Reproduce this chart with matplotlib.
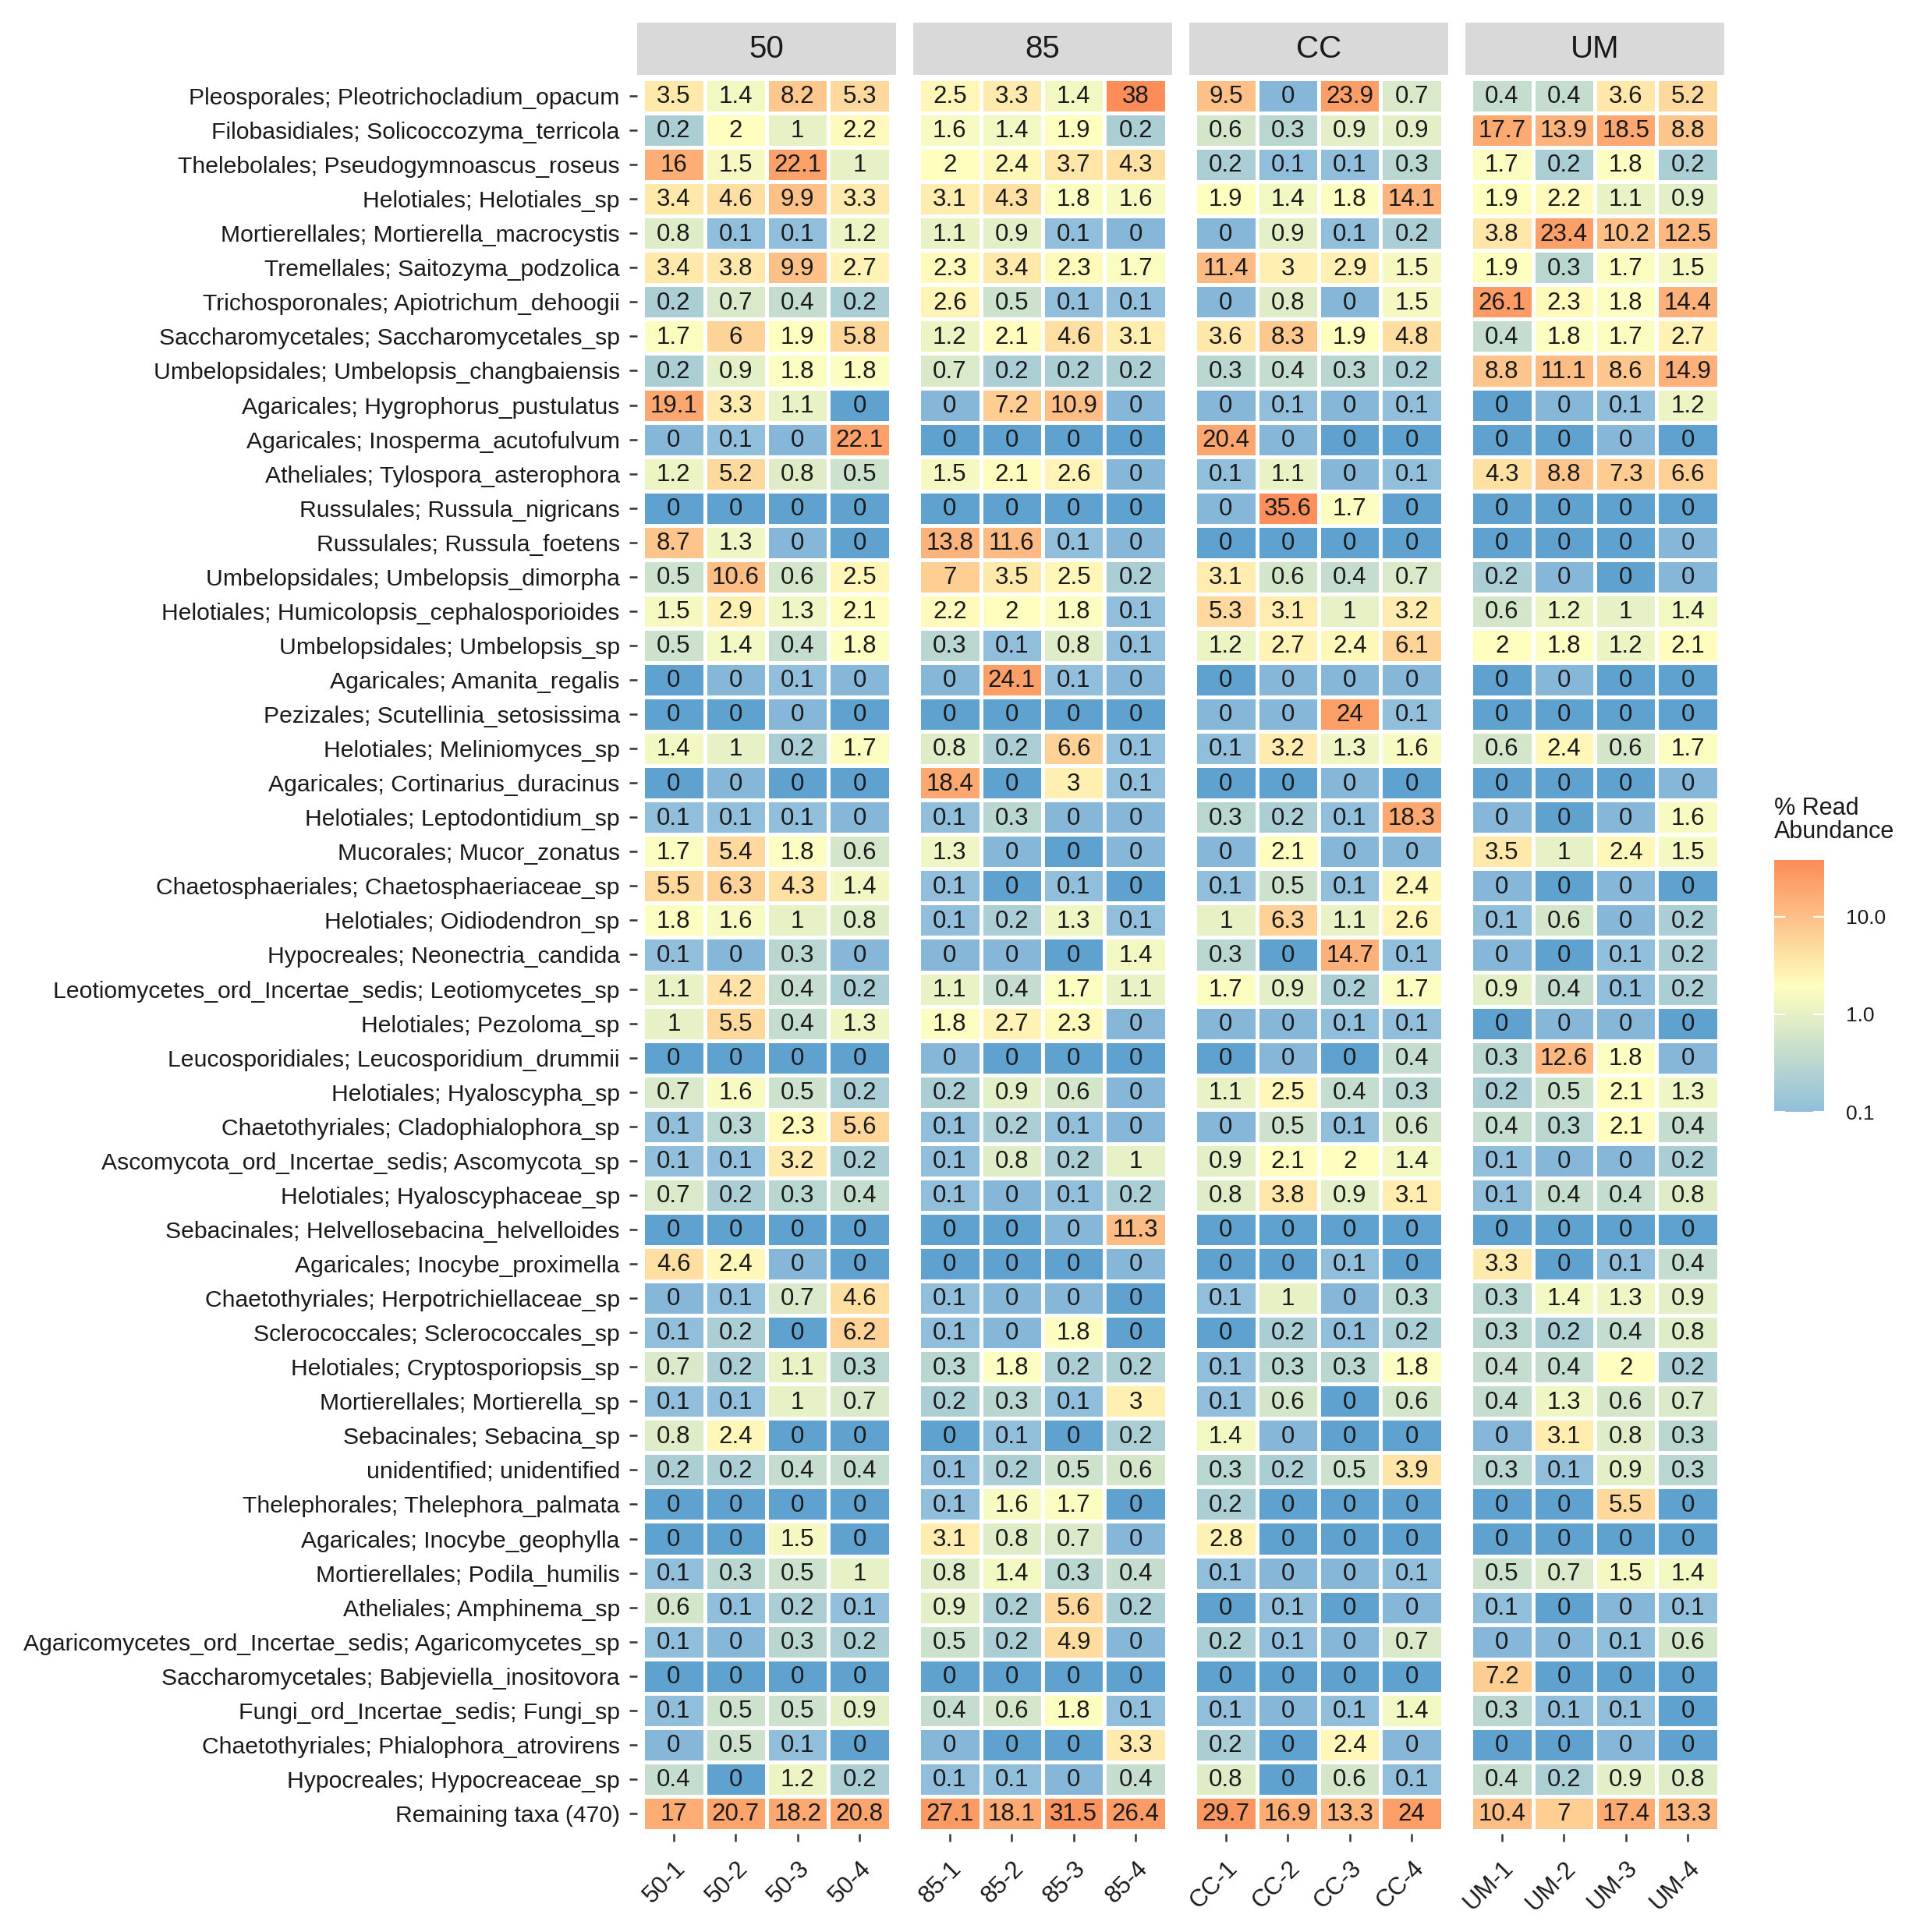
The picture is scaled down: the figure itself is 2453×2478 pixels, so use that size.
import numpy as np
import matplotlib.pyplot as plt
from matplotlib.colors import LinearSegmentedColormap, Normalize

plt.rcParams['font.family'] = ['Liberation Sans', 'DejaVu Sans']

taxa = [
    'Pleosporales; Pleotrichocladium_opacum',
    'Filobasidiales; Solicoccozyma_terricola',
    'Thelebolales; Pseudogymnoascus_roseus',
    'Helotiales; Helotiales_sp',
    'Mortierellales; Mortierella_macrocystis',
    'Tremellales; Saitozyma_podzolica',
    'Trichosporonales; Apiotrichum_dehoogii',
    'Saccharomycetales; Saccharomycetales_sp',
    'Umbelopsidales; Umbelopsis_changbaiensis',
    'Agaricales; Hygrophorus_pustulatus',
    'Agaricales; Inosperma_acutofulvum',
    'Atheliales; Tylospora_asterophora',
    'Russulales; Russula_nigricans',
    'Russulales; Russula_foetens',
    'Umbelopsidales; Umbelopsis_dimorpha',
    'Helotiales; Humicolopsis_cephalosporioides',
    'Umbelopsidales; Umbelopsis_sp',
    'Agaricales; Amanita_regalis',
    'Pezizales; Scutellinia_setosissima',
    'Helotiales; Meliniomyces_sp',
    'Agaricales; Cortinarius_duracinus',
    'Helotiales; Leptodontidium_sp',
    'Mucorales; Mucor_zonatus',
    'Chaetosphaeriales; Chaetosphaeriaceae_sp',
    'Helotiales; Oidiodendron_sp',
    'Hypocreales; Neonectria_candida',
    'Leotiomycetes_ord_Incertae_sedis; Leotiomycetes_sp',
    'Helotiales; Pezoloma_sp',
    'Leucosporidiales; Leucosporidium_drummii',
    'Helotiales; Hyaloscypha_sp',
    'Chaetothyriales; Cladophialophora_sp',
    'Ascomycota_ord_Incertae_sedis; Ascomycota_sp',
    'Helotiales; Hyaloscyphaceae_sp',
    'Sebacinales; Helvellosebacina_helvelloides',
    'Agaricales; Inocybe_proximella',
    'Chaetothyriales; Herpotrichiellaceae_sp',
    'Sclerococcales; Sclerococcales_sp',
    'Helotiales; Cryptosporiopsis_sp',
    'Mortierellales; Mortierella_sp',
    'Sebacinales; Sebacina_sp',
    'unidentified; unidentified',
    'Thelephorales; Thelephora_palmata',
    'Agaricales; Inocybe_geophylla',
    'Mortierellales; Podila_humilis',
    'Atheliales; Amphinema_sp',
    'Agaricomycetes_ord_Incertae_sedis; Agaricomycetes_sp',
    'Saccharomycetales; Babjeviella_inositovora',
    'Fungi_ord_Incertae_sedis; Fungi_sp',
    'Chaetothyriales; Phialophora_atrovirens',
    'Hypocreales; Hypocreaceae_sp',
    'Remaining taxa (470)',
]

groups = ['50', '85', 'CC', 'UM']
samples = {g: [f'{g}-{k}' for k in range(1, 5)] for g in groups}

# % read abundance; 0.04 = present but rounds to 0, 0 = absent
vals_50 = [
    [3.5, 1.4, 8.2, 5.3], [0.2, 2, 1, 2.2], [16, 1.5, 22.1, 1], [3.4, 4.6, 9.9, 3.3],
    [0.8, 0.1, 0.1, 1.2], [3.4, 3.8, 9.9, 2.7], [0.2, 0.7, 0.4, 0.2], [1.7, 6, 1.9, 5.8],
    [0.2, 0.9, 1.8, 1.8], [19.1, 3.3, 1.1, 0], [0.04, 0.1, 0.04, 22.1], [1.2, 5.2, 0.8, 0.5],
    [0, 0, 0, 0], [8.7, 1.3, 0.04, 0], [0.5, 10.6, 0.6, 2.5], [1.5, 2.9, 1.3, 2.1],
    [0.5, 1.4, 0.4, 1.8], [0, 0.04, 0.1, 0.04], [0, 0, 0.04, 0], [1.4, 1, 0.2, 1.7],
    [0, 0.04, 0, 0], [0.1, 0.1, 0.1, 0.04], [1.7, 5.4, 1.8, 0.6], [5.5, 6.3, 4.3, 1.4],
    [1.8, 1.6, 1, 0.8], [0.1, 0.04, 0.3, 0.04], [1.1, 4.2, 0.4, 0.2], [1, 5.5, 0.4, 1.3],
    [0, 0, 0, 0], [0.7, 1.6, 0.5, 0.2], [0.1, 0.3, 2.3, 5.6], [0.1, 0.1, 3.2, 0.2],
    [0.7, 0.2, 0.3, 0.4], [0, 0, 0, 0], [4.6, 2.4, 0.04, 0], [0.04, 0.1, 0.7, 4.6],
    [0.1, 0.2, 0, 6.2], [0.7, 0.2, 1.1, 0.3], [0.1, 0.1, 1, 0.7], [0.8, 2.4, 0, 0],
    [0.2, 0.2, 0.4, 0.4], [0, 0, 0, 0], [0, 0, 1.5, 0], [0.1, 0.3, 0.5, 1],
    [0.6, 0.1, 0.2, 0.1], [0.1, 0.04, 0.3, 0.2], [0, 0, 0, 0], [0.1, 0.5, 0.5, 0.9],
    [0.04, 0.5, 0.1, 0], [0.4, 0, 1.2, 0.2], [17, 20.7, 18.2, 20.8],
]
vals_85 = [
    [2.5, 3.3, 1.4, 38], [1.6, 1.4, 1.9, 0.2], [2, 2.4, 3.7, 4.3], [3.1, 4.3, 1.8, 1.6],
    [1.1, 0.9, 0.1, 0.04], [2.3, 3.4, 2.3, 1.7], [2.6, 0.5, 0.1, 0.1], [1.2, 2.1, 4.6, 3.1],
    [0.7, 0.2, 0.2, 0.2], [0.04, 7.2, 10.9, 0.04], [0, 0, 0, 0], [1.5, 2.1, 2.6, 0.04],
    [0, 0, 0, 0], [13.8, 11.6, 0.1, 0.04], [7, 3.5, 2.5, 0.2], [2.2, 2, 1.8, 0.1],
    [0.3, 0.1, 0.8, 0.1], [0.04, 24.1, 0.1, 0.04], [0, 0, 0, 0], [0.8, 0.2, 6.6, 0.1],
    [18.4, 0, 3, 0.1], [0.1, 0.3, 0.04, 0.04], [1.3, 0.04, 0, 0.04], [0.1, 0, 0.1, 0],
    [0.1, 0.2, 1.3, 0.1], [0.04, 0.04, 0, 1.4], [1.1, 0.4, 1.7, 1.1], [1.8, 2.7, 2.3, 0.04],
    [0.04, 0, 0, 0], [0.2, 0.9, 0.6, 0.04], [0.1, 0.2, 0.1, 0.04], [0.1, 0.8, 0.2, 1],
    [0.1, 0.04, 0.1, 0.2], [0, 0, 0.04, 11.3], [0, 0, 0, 0.04], [0.1, 0.04, 0.04, 0],
    [0.1, 0.04, 1.8, 0], [0.3, 1.8, 0.2, 0.2], [0.2, 0.3, 0.1, 3], [0, 0.1, 0, 0.2],
    [0.1, 0.2, 0.5, 0.6], [0.1, 1.6, 1.7, 0], [3.1, 0.8, 0.7, 0.04], [0.8, 1.4, 0.3, 0.4],
    [0.9, 0.2, 5.6, 0.2], [0.5, 0.2, 4.9, 0.04], [0, 0, 0, 0], [0.4, 0.6, 1.8, 0.1],
    [0.04, 0, 0, 3.3], [0.1, 0.1, 0.04, 0.4], [27.1, 18.1, 31.5, 26.4],
]
vals_CC = [
    [9.5, 0.04, 23.9, 0.7], [0.6, 0.3, 0.9, 0.9], [0.2, 0.1, 0.1, 0.3], [1.9, 1.4, 1.8, 14.1],
    [0.04, 0.9, 0.1, 0.2], [11.4, 3, 2.9, 1.5], [0.04, 0.8, 0.04, 1.5], [3.6, 8.3, 1.9, 4.8],
    [0.3, 0.4, 0.3, 0.2], [0.04, 0.1, 0.04, 0.1], [20.4, 0.04, 0, 0], [0.1, 1.1, 0.04, 0.1],
    [0.04, 35.6, 1.7, 0], [0, 0, 0, 0], [3.1, 0.6, 0.4, 0.7], [5.3, 3.1, 1, 3.2],
    [1.2, 2.7, 2.4, 6.1], [0, 0.04, 0.04, 0.04], [0.04, 0.04, 24, 0.1], [0.1, 3.2, 1.3, 1.6],
    [0, 0, 0.04, 0], [0.3, 0.2, 0.1, 18.3], [0.04, 2.1, 0.04, 0.04], [0.1, 0.5, 0.1, 2.4],
    [1, 6.3, 1.1, 2.6], [0.3, 0, 14.7, 0.1], [1.7, 0.9, 0.2, 1.7], [0.04, 0.04, 0.1, 0.1],
    [0, 0.04, 0, 0.4], [1.1, 2.5, 0.4, 0.3], [0.04, 0.5, 0.1, 0.6], [0.9, 2.1, 2, 1.4],
    [0.8, 3.8, 0.9, 3.1], [0, 0, 0, 0], [0, 0, 0.1, 0], [0.1, 1, 0.04, 0.3],
    [0, 0.2, 0.1, 0.2], [0.1, 0.3, 0.3, 1.8], [0.1, 0.6, 0, 0.6], [1.4, 0.04, 0, 0],
    [0.3, 0.2, 0.5, 3.9], [0.2, 0, 0, 0], [2.8, 0, 0, 0], [0.1, 0.04, 0.04, 0.1],
    [0, 0.1, 0, 0.04], [0.2, 0.1, 0.04, 0.7], [0, 0, 0, 0], [0.1, 0.04, 0.1, 1.4],
    [0.2, 0, 2.4, 0.04], [0.8, 0, 0.6, 0.1], [29.7, 16.9, 13.3, 24],
]
vals_UM = [
    [0.4, 0.4, 3.6, 5.2], [17.7, 13.9, 18.5, 8.8], [1.7, 0.2, 1.8, 0.2], [1.9, 2.2, 1.1, 0.9],
    [3.8, 23.4, 10.2, 12.5], [1.9, 0.3, 1.7, 1.5], [26.1, 2.3, 1.8, 14.4], [0.4, 1.8, 1.7, 2.7],
    [8.8, 11.1, 8.6, 14.9], [0, 0.04, 0.1, 1.2], [0, 0, 0.04, 0], [4.3, 8.8, 7.3, 6.6],
    [0, 0, 0, 0], [0, 0, 0, 0.04], [0.2, 0.04, 0, 0.04], [0.6, 1.2, 1, 1.4],
    [2, 1.8, 1.2, 2.1], [0, 0.04, 0, 0], [0, 0, 0, 0], [0.6, 2.4, 0.6, 1.7],
    [0, 0, 0, 0.04], [0.04, 0, 0.04, 1.6], [3.5, 1, 2.4, 1.5], [0.04, 0, 0.04, 0],
    [0.1, 0.6, 0.04, 0.2], [0.04, 0, 0.1, 0.2], [0.9, 0.4, 0.1, 0.2], [0, 0.04, 0.04, 0],
    [0.3, 12.6, 1.8, 0.04], [0.2, 0.5, 2.1, 1.3], [0.4, 0.3, 2.1, 0.4], [0.1, 0.04, 0.04, 0.2],
    [0.1, 0.4, 0.4, 0.8], [0, 0, 0, 0], [3.3, 0, 0.1, 0.4], [0.3, 1.4, 1.3, 0.9],
    [0.3, 0.2, 0.4, 0.8], [0.4, 0.4, 2, 0.2], [0.4, 1.3, 0.6, 0.7], [0.04, 3.1, 0.8, 0.3],
    [0.3, 0.1, 0.9, 0.3], [0, 0, 5.5, 0], [0, 0, 0, 0], [0.5, 0.7, 1.5, 1.4],
    [0.1, 0, 0.04, 0.1], [0.04, 0.04, 0.1, 0.6], [7.2, 0, 0, 0], [0.3, 0.1, 0.1, 0],
    [0, 0, 0.04, 0], [0.4, 0.2, 0.9, 0.8], [10.4, 7, 17.4, 13.3],
]
data = {'50': vals_50, '85': vals_85, 'CC': vals_CC, 'UM': vals_UM}

W, H = 2453, 2478
fig = plt.figure(figsize=(W / 100, H / 100), dpi=100)

# log10 colour scale, 0.1 -> 38 shown in legend
lmin, lmax = -1.7, np.log10(38)
stops = [(-1.7, '#7fb1d6'), (-1.0, '#91bfdb'), ((-1.0 + lmax) / 2, '#ffffbf'), (lmax, '#fc8d59')]
cmap = LinearSegmentedColormap.from_list(
    'abund', [((v - lmin) / (lmax - lmin), c) for v, c in stops]).with_extremes(under='#5fa2cf')
norm = Normalize(lmin, lmax)

txt = '#1a1a1a'
n = len(taxa)
top, bot = 97, 2352
fs = 22.5

for i, g in enumerate(groups):
    left = 817 + i * 354
    ax = fig.add_axes([left / W, 1 - bot / H, 332 / W, (bot - top) / H])
    v = np.array(data[g], dtype=float)
    logv = np.where(v > 0, np.log10(np.where(v > 0, v, 1)), -9)
    ax.pcolormesh(np.arange(5), np.arange(n + 1), logv, cmap=cmap, norm=norm,
                  edgecolors='white', linewidth=3.3)
    for r in range(n):
        for c in range(4):
            ax.text(c + 0.5, r + 0.53, f'{round(v[r, c], 1):g}', ha='center', va='center',
                    fontsize=fs, color=txt)
    ax.set_xlim(-0.09, 4.09)
    ax.set_ylim(n + 0.09, -0.09)
    for s in ax.spines.values():
        s.set_visible(False)
    ax.set_xticks(np.arange(4) + 0.5)
    ax.set_xticklabels(samples[g], rotation=45, ha='right', va='top',
                       rotation_mode='anchor', fontsize=fs, color=txt)
    ax.tick_params(axis='both', length=7, width=1.8, color='#333333', pad=9)
    ax.tick_params(axis='x', pad=14)
    if i == 0:
        ax.set_yticks(np.arange(n) + 0.5)
        ax.set_yticklabels(taxa, fontsize=21.7, color=txt)
    else:
        ax.set_yticks([])

    # facet strip
    sax = fig.add_axes([left / W, 1 - 96 / H, 332 / W, 67 / H])
    sax.set_facecolor('#d9d9d9')
    sax.set_xticks([])
    sax.set_yticks([])
    for s in sax.spines.values():
        s.set_visible(False)
    sax.text(0.5, 0.5, g, ha='center', va='center', fontsize=29, color=txt,
             transform=sax.transAxes)

# colour bar legend
cax = fig.add_axes([2275 / W, 1 - 1426 / H, 64 / W, 323 / H])
grad = np.linspace(-1.0, lmax, 300)[:, None]
cax.imshow(grad, aspect='auto', origin='lower', extent=[0, 1, -1.0, lmax], cmap=cmap, norm=norm)
cax.set_xlim(0, 1)
cax.set_ylim(-1.0, lmax)
for t in [-1, 0, 1]:
    cax.plot([0, 0.2], [t, t], color='white', lw=1.5)
    cax.plot([0.8, 1], [t, t], color='white', lw=1.5)
cax.set_xticks([])
cax.yaxis.tick_right()
cax.set_yticks([-1, 0, 1])
cax.set_yticklabels(['0.1', '1.0', '10.0'], fontsize=19, color=txt)
cax.tick_params(axis='y', length=0, pad=20)
for s in cax.spines.values():
    s.set_visible(False)
fig.text(2275 / W, 1 - 1082 / H, '% Read\nAbundance', ha='left', va='bottom',
         fontsize=22, color=txt, linespacing=1.0)

fig.savefig('out.png', dpi=100, facecolor='white')
